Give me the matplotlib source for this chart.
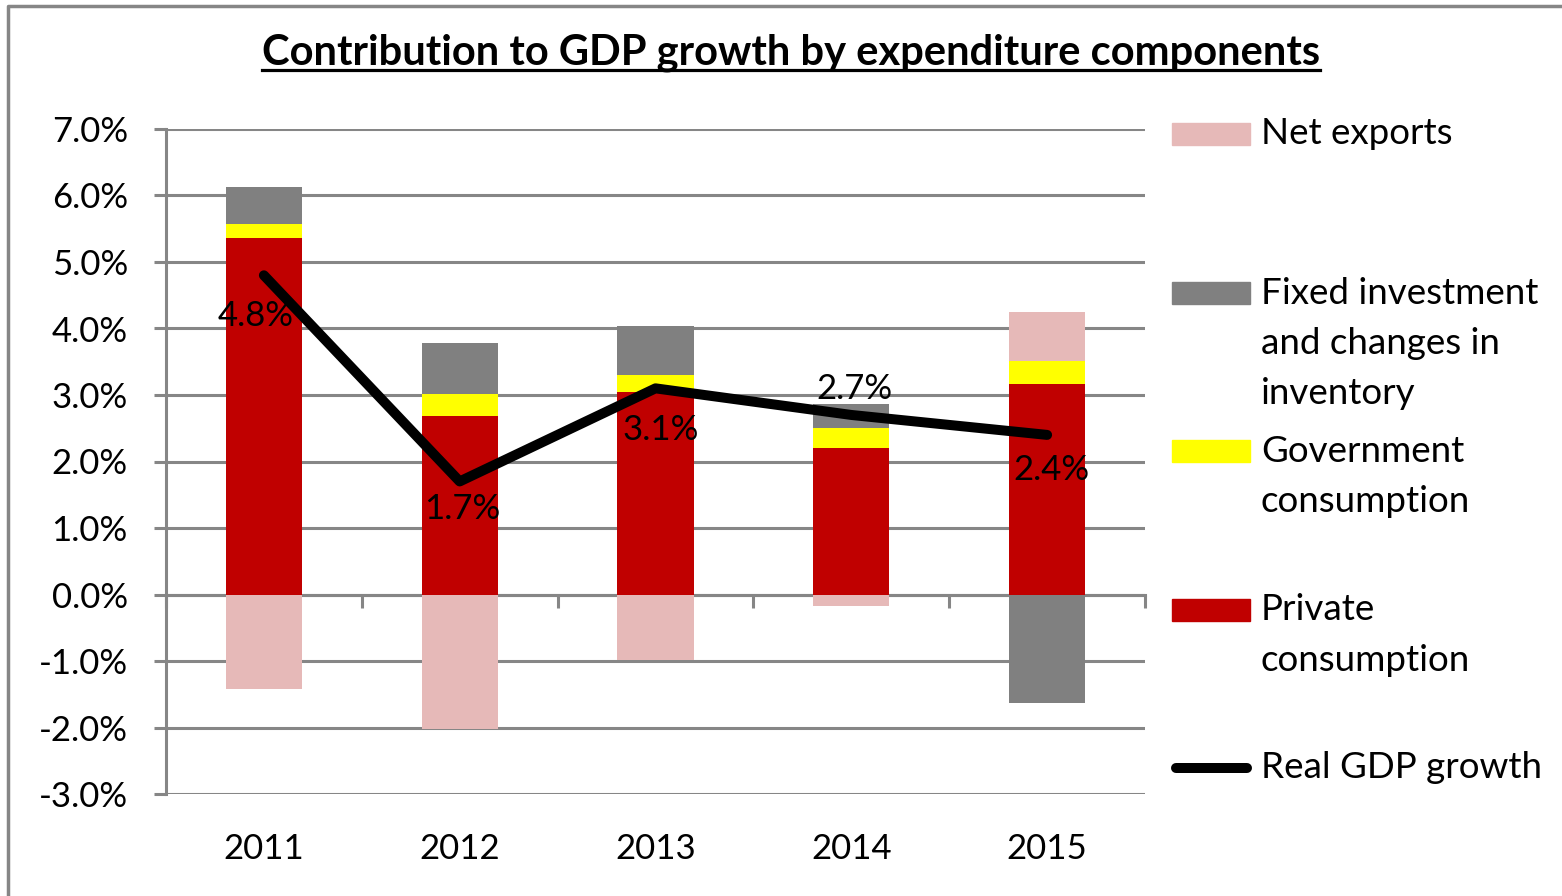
import numpy as np
import matplotlib
matplotlib.use("Agg")
from matplotlib import pyplot as plt
from matplotlib.lines import Line2D
from matplotlib.patches import Rectangle

years = ["2011", "2012", "2013", "2014", "2015"]
private_cons = [5.36, 2.68, 3.04, 2.21, 3.16]
gov_cons = [0.21, 0.33, 0.26, 0.29, 0.35]
fixed_inv = [0.56, 0.77, 0.74, 0.36, -1.63]
net_exports = [-1.42, -2.03, -0.98, -0.18, 0.74]
gdp_growth = [4.8, 1.7, 3.1, 2.7, 2.4]
gdp_labels = ["4.8%", "1.7%", "3.1%", "2.7%", "2.4%"]

plt.rcParams["font.family"] = ["Lato", "DejaVu Sans"]
GRID = "#868686"
W, H = 1562, 896

fig = plt.figure(figsize=(W / 100, H / 100), dpi=100)
ax = fig.add_axes([166 / W, 1 - 794 / H, (1145 - 166) / W, (794 - 129) / H])

x = np.arange(len(years))
series = [
    (private_cons, "#C00000"),
    (gov_cons, "#FFFF00"),
    (fixed_inv, "#808080"),
    (net_exports, "#E6B9B8"),
]

# stack positives upward and negatives downward, like Excel
pos = np.zeros(len(years))
neg = np.zeros(len(years))
for vals, col in series:
    v = np.array(vals)
    bottom = np.where(v >= 0, pos, neg)
    ax.bar(x, v, 0.39, bottom=bottom, color=col, zorder=3)
    pos = pos + np.where(v >= 0, v, 0)
    neg = neg + np.where(v < 0, v, 0)

ax.plot(x, gdp_growth, color="black", lw=7.2, solid_capstyle="round",
        solid_joinstyle="round", zorder=5)

# label offsets (points) as in the original
offs = [(-6, -29), (2, -20), (4, -30), (2, 19), (3, -25)]
for xi, yi, lab, o in zip(x, gdp_growth, gdp_labels, offs):
    ax.annotate(lab, (xi, yi), xytext=o, textcoords="offset points",
                ha="center", va="center", fontsize=25, zorder=6)

ax.set_xlim(-0.5, 4.5)
ax.set_ylim(-3, 7)
ax.set_yticks(np.arange(-3, 8, 1))
ax.set_yticklabels(["%.1f%%" % v for v in np.arange(-3, 8, 1)], fontsize=25)
ax.yaxis.grid(True, color=GRID, lw=2.2, zorder=1)
ax.tick_params(axis="y", length=8.5, width=2.2, color=GRID, pad=19)
ax.set_xticks(x)
ax.set_xticklabels(years, fontsize=25)
ax.tick_params(axis="x", length=0, pad=28)
for s in ["top", "right", "bottom"]:
    ax.spines[s].set_visible(False)
ax.spines["left"].set_color(GRID)
ax.spines["left"].set_linewidth(2.2)

# zero line with category boundary tick marks
sec = ax.secondary_xaxis(0.3)
sec.set_xticks(np.arange(-0.5, 5, 1))
sec.set_xticklabels([])
sec.tick_params(length=9, width=2.2, color=GRID, direction="out")
sec.spines["bottom"].set_color(GRID)
sec.spines["bottom"].set_linewidth(2.2)

# title with underline
t = fig.text(791 / W, 1 - 53 / H, "Contribution to GDP growth by expenditure components",
             ha="center", va="center", fontsize=30, fontweight="bold")
fig.canvas.draw()
bb = t.get_window_extent()
fig.add_artist(Line2D([bb.x0 / W, bb.x1 / W], [(bb.y0 + 2) / H] * 2, color="black", lw=2.3))

# legend drawn by hand
leg_items = [
    ("Net exports", "#E6B9B8", 134),
    ("Fixed investment\nand changes in\ninventory", "#808080", 293),
    ("Government\nconsumption", "#FFFF00", 451),
    ("Private\nconsumption", "#C00000", 610),
]
for lab, col, yc in leg_items:
    fig.add_artist(Rectangle((1172 / W, 1 - (yc + 11) / H), 78 / W, 22 / H,
                             color=col, transform=fig.transFigure))
    for i, line in enumerate(lab.split("\n")):
        fig.text(1261 / W, 1 - (yc + 50 * i) / H, line, ha="left", va="center", fontsize=26.5)
fig.add_artist(Line2D([1176 / W, 1247 / W], [1 - 768 / H] * 2, color="black", lw=7.2,
                      solid_capstyle="round"))
fig.text(1261 / W, 1 - 768 / H, "Real GDP growth", ha="left", va="center", fontsize=26.5)

# outer frame
fig.add_artist(Line2D([8 / W, 8 / W, 1], [0, 1 - 6 / H, 1 - 6 / H], color=GRID, lw=2.5))

fig.savefig("out.png", dpi=100)
